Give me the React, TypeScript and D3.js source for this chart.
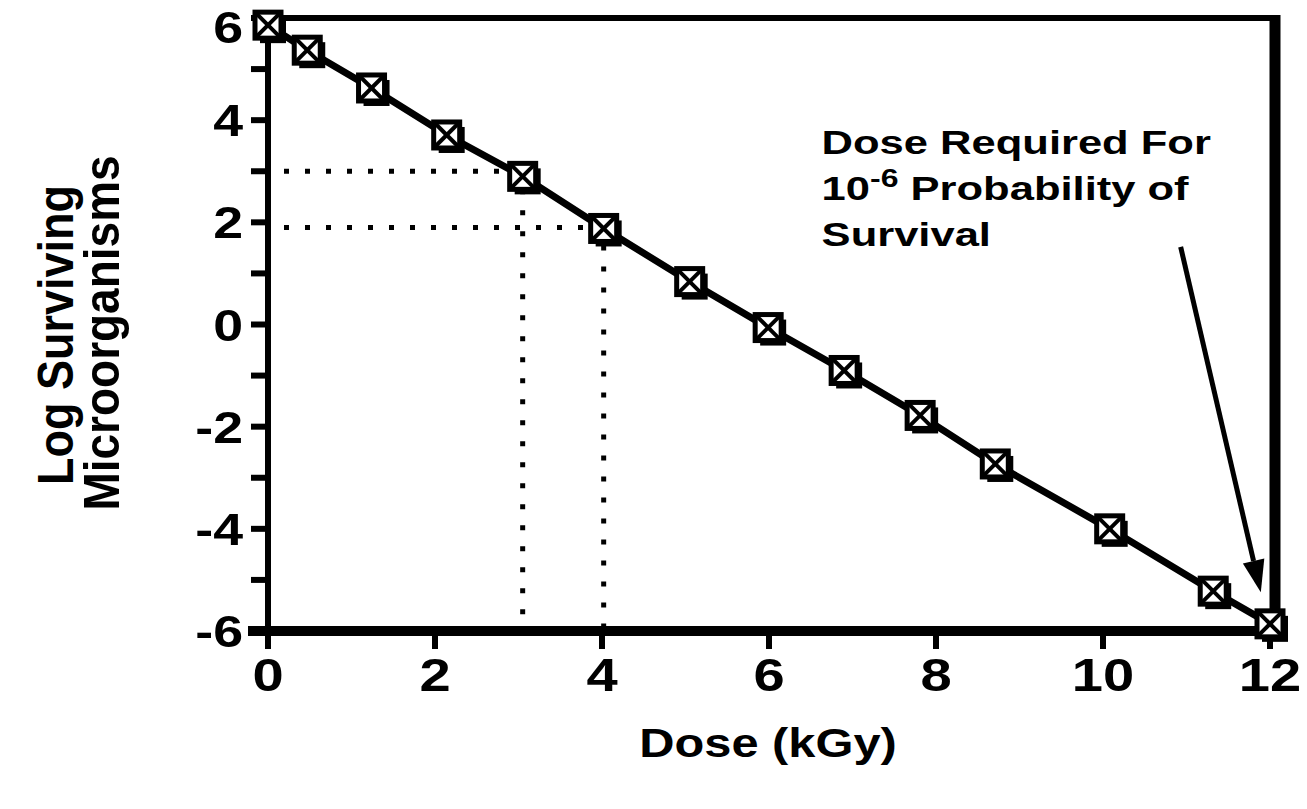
import React from "react";
import * as d3 from "d3";

const doses = [0, 0.47, 1.24, 2.14, 3.05, 4.02, 5.05, 5.99, 6.9, 7.81, 8.71, 10.08, 11.32, 12.0];
const logSurvivors = [5.86, 5.37, 4.63, 3.71, 2.9, 1.88, 0.84, -0.06, -0.9, -1.78, -2.73, -4.0, -5.22, -5.86];
const xTicks = [0, 2, 4, 6, 8, 10, 12];
const yTicks = [-6, -5, -4, -3, -2, -1, 0, 1, 2, 3, 4, 5, 6];
const yLabels = [-6, -4, -2, 0, 2, 4, 6];
const refDoses = [3.05, 4.02];
const refLevels = [3.0, 1.9];
const annotationLines = ["Dose Required For", "10", "Survival"];
const arrowFrom = [10.93, 1.52];
const arrowTo = [11.89, -5.24];
const annotationAt = [6.63, 3.34];

const FONT = "'Liberation Sans', Arial, Helvetica, sans-serif";

export default function App() {
  const W = 1307, H = 809;
  const x = d3.scaleLinear().domain([0, 12]).range([268, 1270]);
  const y = d3.scaleLinear().domain([-6, 6]).range([631, 18]);
  const pts = doses.map((d, i) => [x(d), y(logSurvivors[i])] as [number, number]);
  const line = d3.line()(pts) || "";
  const sx = 1.22;
  const ms = 26;

  const ax = x(annotationAt[0]);
  const ay = y(annotationAt[1]);
  const a0 = [x(arrowFrom[0]), y(arrowFrom[1])];
  const a1 = [x(arrowTo[0]), y(arrowTo[1])];
  const ang = Math.atan2(a1[1] - a0[1], a1[0] - a0[0]);
  const headL = 32, headW = 11;
  const hb = [a1[0] - headL * Math.cos(ang), a1[1] - headL * Math.sin(ang)];
  const head = [
    a1,
    [hb[0] + headW * Math.sin(ang), hb[1] - headW * Math.cos(ang)],
    [hb[0] - headW * Math.sin(ang), hb[1] + headW * Math.cos(ang)],
  ];

  return (
    <svg width={W} height={H} style={{ position: "absolute", left: 0, top: 0, background: "#fff" }} fontFamily={FONT} fontWeight="bold">
      <rect width={W} height={H} fill="#fff" />
      {/* dotted reference lines */}
      {refDoses.map((d, i) => (
        <g key={"ref" + i} stroke="#000" strokeWidth={5} strokeDasharray="5 16">
          <line x1={x(0) + 16} x2={x(d)} y1={y(refLevels[i])} y2={y(refLevels[i])} />
          <line x1={x(d)} x2={x(d)} y1={y(refLevels[i]) + 18} y2={y(-6)} />
        </g>
      ))}
      {/* frame */}
      <line x1={x(0)} x2={x(12) + 10} y1={y(6)} y2={y(6)} stroke="#000" strokeWidth={6} />
      <line x1={x(12) + 5} x2={x(12) + 5} y1={y(6) - 3} y2={y(-6)} stroke="#000" strokeWidth={11} />
      <line x1={x(0)} x2={x(0)} y1={y(6)} y2={y(-6) + 10} stroke="#000" strokeWidth={6} />
      <line x1={x(0) - 20} x2={x(12) + 10} y1={y(-6)} y2={y(-6)} stroke="#000" strokeWidth={10} />
      {/* y ticks */}
      {yTicks.map((t) => (
        <line key={"yt" + t} x1={x(0) - 17} x2={x(0)} y1={y(t)} y2={y(t)} stroke="#000" strokeWidth={6} />
      ))}
      {/* x ticks */}
      {xTicks.map((t) => (
        <line key={"xt" + t} x1={x(t)} x2={x(t)} y1={y(-6)} y2={y(-6) + 18} stroke="#000" strokeWidth={6} />
      ))}
      {/* y labels */}
      {yLabels.map((t) => (
        <text key={"yl" + t} transform={`translate(${243},${Math.max(y(t), 27) + 16}) scale(${sx},1)`} textAnchor="end" fontSize={44}>
          {t}
        </text>
      ))}
      {/* x labels */}
      {xTicks.map((t) => (
        <text key={"xl" + t} transform={`translate(${x(t)},${691}) scale(${sx},1)`} textAnchor="middle" fontSize={46}>
          {t}
        </text>
      ))}
      {/* axis titles */}
      <text transform={`translate(${768},${757}) scale(${sx},1)`} textAnchor="middle" fontSize={40}>
        Dose (kGy)
      </text>
      <text transform={`translate(${73},${335}) rotate(-90) scale(1,1.1)`} textAnchor="middle" fontSize={45}>
        Log Surviving
      </text>
      <text transform={`translate(${119},${333}) rotate(-90) scale(1,1.1)`} textAnchor="middle" fontSize={46}>
        Microorganisms
      </text>
      {/* data line */}
      <path d={line} fill="none" stroke="#000" strokeWidth={7} />
      {/* markers */}
      {pts.map((p, i) => (
        <g key={"m" + i} transform={`translate(${p[0]},${p[1]})`}>
          <rect x={-ms / 2 + 5} y={-ms / 2 + 5} width={ms} height={ms} fill="#000" />
          <rect x={-ms / 2} y={-ms / 2} width={ms} height={ms} fill="#fff" stroke="#000" strokeWidth={5} />
          <line x1={-ms / 2} y1={-ms / 2} x2={ms / 2} y2={ms / 2} stroke="#000" strokeWidth={4} />
          <line x1={ms / 2} y1={-ms / 2} x2={-ms / 2} y2={ms / 2} stroke="#000" strokeWidth={4} />
        </g>
      ))}
      {/* annotation */}
      <g fontSize={34}>
        <text transform={`translate(${ax},${ay}) scale(1.28,1)`}>{annotationLines[0]}</text>
        <text transform={`translate(${ax},${ay + 46}) scale(1.28,1)`}>
          {annotationLines[1]}
          <tspan dy={-13} fontSize={25}>-6</tspan>
          <tspan dy={13}> Probability of</tspan>
        </text>
        <text transform={`translate(${ax},${ay + 92}) scale(1.28,1)`}>{annotationLines[2]}</text>
      </g>
      <line x1={a0[0]} y1={a0[1]} x2={hb[0]} y2={hb[1]} stroke="#000" strokeWidth={5} />
      <polygon points={head.map((p) => p.join(",")).join(" ")} fill="#000" />
    </svg>
  );
}
